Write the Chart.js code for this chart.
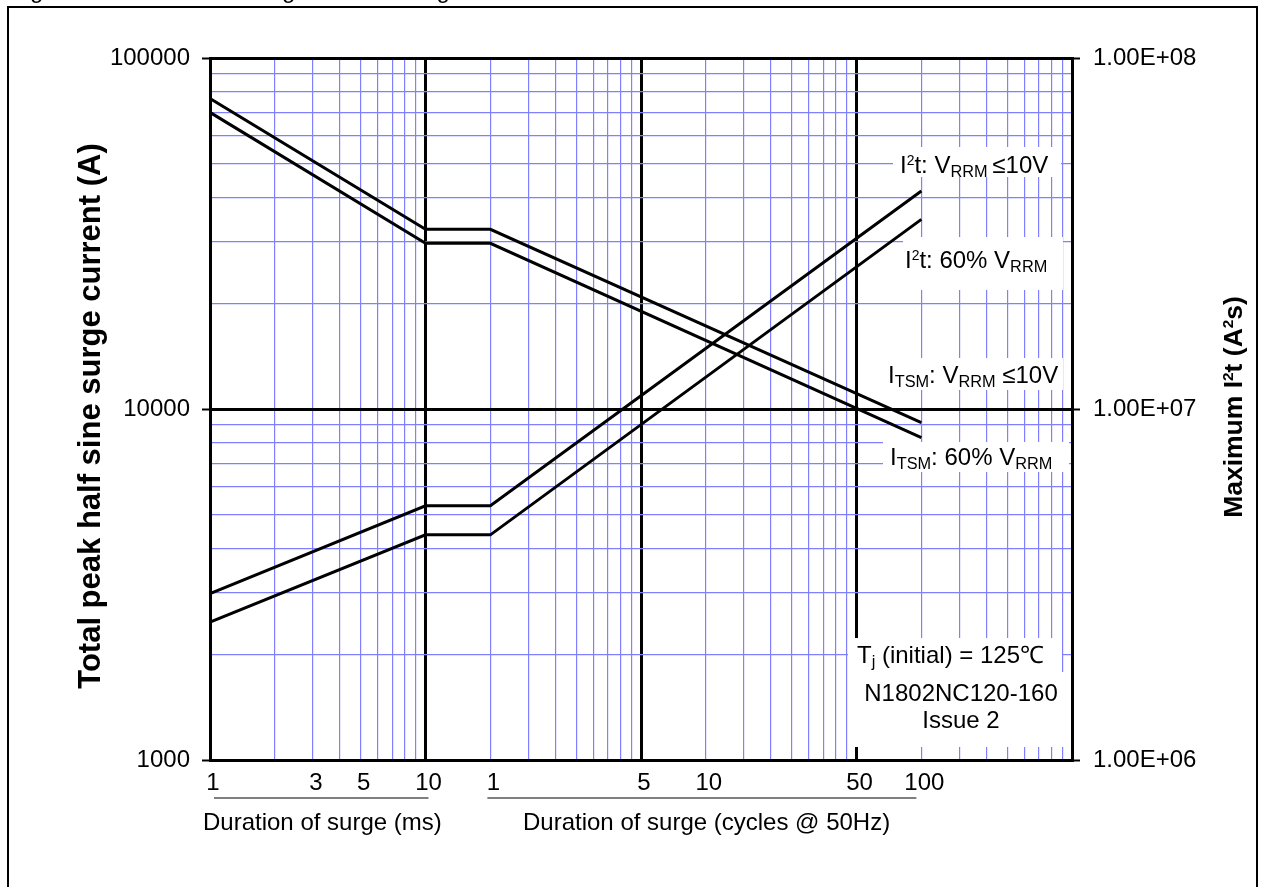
<!DOCTYPE html>
<html><head><meta charset="utf-8">
<script src="https://cdn.jsdelivr.net/npm/chart.js@4.4.0/dist/chart.umd.min.js"></script>
<style>html,body{margin:0;padding:0;background:#fff;overflow:hidden}#wrap{position:relative;width:1265px;height:887px}canvas{display:block}</style>
</head><body><div id="wrap"><canvas id="c" width="1265" height="887" style="width:1265px;height:887px"></canvas></div>
<script>
// ---- data ----
const durationMs = [1, 10, 20, 2000];             // surge duration (ms); 20 ms = 1 cycle @ 50 Hz
const itsmLowV   = [76700, 32500, 32500, 9150];   // I_TSM, V_RRM <= 10V (A)
const itsm60     = [70000, 29650, 29650, 8290];   // I_TSM, 60% V_RRM (A)
const i2tLowV    = [2.98e6, 5.30e6, 5.30e6, 4.18e7]; // I2t, V_RRM <= 10V (A2s)
const i2t60      = [2.47e6, 4.38e6, 4.38e6, 3.47e7]; // I2t, 60% V_RRM (A2s)

// ---- axis ticks / labels ----
const xGridMs = [1,2,3,4,5,6,7,8,9,10,20,30,40,50,60,70,80,90,100,200,300,400,500,600,700,800,900,1000,2000,3000,4000,5000,6000,7000,8000,9000,10000];
const xLabelValues = [1, 3, 5, 10, 20, 100, 200, 1000, 2000];
const xLabels      = ['1','3','5','10','1','5','10','50','100'];
const yLeftGrid = [1000,2000,3000,4000,5000,6000,7000,8000,9000,10000,20000,30000,40000,50000,60000,70000,80000,90000,100000];
const yLeftLabelValues = [1000, 10000, 100000];
const yLeftLabels      = ['1000', '10000', '100000'];
const yRightValues = [1e6, 1e7, 1e8];
const yRightLabels = ['1.00E+06', '1.00E+07', '1.00E+08'];

const FONT = '"Liberation Sans", Arial, Helvetica, sans-serif';
const BLUE = '#8080ff';
const isMajor = v => Math.abs(Math.log10(v) - Math.round(Math.log10(v))) < 1e-9;
const lookup = (vals, labels) => v => { const i = vals.findIndex(t => Math.abs(t - v) / t < 1e-9); return i >= 0 ? labels[i] : ''; };
const xLabel = lookup(xLabelValues, xLabels);
const yLeftLabel = lookup(yLeftLabelValues, yLeftLabels);
const yRightLabel = lookup(yRightValues, yRightLabels);

const mkDs = (label, vals, axis) => ({
  label, yAxisID: axis,
  data: durationMs.map((x, i) => ({ x, y: vals[i] })),
  borderColor: '#000', borderWidth: 3, pointRadius: 0, pointHoverRadius: 0,
  fill: false, tension: 0, borderJoinStyle: 'miter'
});

function fnt(size, bold) { return (bold ? 'bold ' : '') + size + 'px ' + FONT; }
function runSize(m, size) { return m === 1 ? size * 0.58 : (m === -1 ? size * 0.68 : size); }
function measureRuns(ctx, runs, size, bold) {
  let w = 0;
  for (const [t, m] of runs) { ctx.font = fnt(runSize(m, size), bold); w += ctx.measureText(t).width; }
  return w;
}
function drawRuns(ctx, runs, x, y, size, bold, align) {
  const w = measureRuns(ctx, runs, size, bold);
  let cx = align === 'center' ? x - w / 2 : x;
  ctx.textBaseline = 'alphabetic'; ctx.textAlign = 'left'; ctx.fillStyle = '#000';
  for (const [t, m] of runs) {
    ctx.font = fnt(runSize(m, size), bold);
    const dy = m === 1 ? -size * 0.33 : (m === -1 ? size * 0.16 : 0);
    ctx.fillText(t, cx, y + dy);
    cx += ctx.measureText(t).width;
  }
}

const annotations = {
  id: 'annotations',
  afterDraw(chart) {
    const ctx = chart.ctx;
    const xs = chart.scales.x;
    ctx.save();
    // outer frame
    ctx.strokeStyle = '#000'; ctx.lineWidth = 2;
    ctx.strokeRect(8, 7, 1249, 900);
    // figure title (cut off at top in the reference)
    drawRuns(ctx, [['Figure 13 \u2013 Maximum surge and I', 0], ['2', 1], ['t ratings', 0]], 10, -2, 24, false, 'left');

    // white label boxes covering the grid
    ctx.fillStyle = '#fff';
    const boxes = [[893,147,1061,177],[903,237,1063,290],[883,358,1063,390],[883,442,1069,472],[848,638,1062,672],[855,672,1069,747]];
    for (const [x0,y0,x1,y1] of boxes) ctx.fillRect(x0, y0, x1 - x0, y1 - y0);

    drawRuns(ctx, [['I',0],['2',1],['t: V',0],['RRM',-1],['\u2009\u226410V',0]], 900, 173, 24, false, 'left');
    drawRuns(ctx, [['I',0],['2',1],['t: 60% V',0],['RRM',-1]], 905, 268, 24, false, 'left');
    drawRuns(ctx, [['I',0],['TSM',-1],[': V',0],['RRM',-1],[' \u226410V',0]], 888, 383, 24, false, 'left');
    drawRuns(ctx, [['I',0],['TSM',-1],[': 60% V',0],['RRM',-1]], 890, 465, 24, false, 'left');
    drawRuns(ctx, [['T',0],['j',-1],[' (initial) = 125\u2103',0]], 857, 663, 24, false, 'left');
    drawRuns(ctx, [['N1802NC120-160',0]], 961, 701, 24, false, 'center');
    drawRuns(ctx, [['Issue 2',0]], 961, 728, 24, false, 'center');

    // x axis group underlines and titles
    ctx.strokeStyle = '#000'; ctx.lineWidth = 1.2;
    ctx.beginPath();
    ctx.moveTo(xs.getPixelForValue(1) + 4, 798); ctx.lineTo(xs.getPixelForValue(10) + 3, 798);
    ctx.moveTo(xs.getPixelForValue(20) - 3, 798); ctx.lineTo(xs.getPixelForValue(2000) - 5, 798);
    ctx.stroke();
    drawRuns(ctx, [['Duration of surge (ms)',0]], 203, 830, 24, false, 'left');
    drawRuns(ctx, [['Duration of surge (cycles @ 50Hz)',0]], 523, 830, 24, false, 'left');

    // y axis titles (rotated)
    ctx.save();
    ctx.translate(100, 416); ctx.rotate(-Math.PI / 2);
    drawRuns(ctx, [['Total peak half sine surge current (A)',0]], 0, 0, 31, true, 'center');
    ctx.restore();
    ctx.save();
    ctx.translate(1242, 407); ctx.rotate(-Math.PI / 2);
    drawRuns(ctx, [['Maximum I',0],['2',1],['t (A',0],['2',1],['s)',0]], 0, 0, 26.5, true, 'center');
    ctx.restore();
    ctx.restore();
  }
};

const tickFont = { family: FONT, size: 24 };
new Chart(document.getElementById('c'), {
  type: 'line',
  data: { datasets: [
    mkDs('I2t: VRRM <= 10V', i2tLowV, 'yR'),
    mkDs('I2t: 60% VRRM', i2t60, 'yR'),
    mkDs('ITSM: VRRM <= 10V', itsmLowV, 'y'),
    mkDs('ITSM: 60% VRRM', itsm60, 'y')
  ]},
  options: {
    responsive: false, animation: false, devicePixelRatio: 1,
    layout: { padding: { top: 58, left: 0, right: 0, bottom: 0 } },
    plugins: { legend: { display: false }, tooltip: { enabled: false }, title: { display: false } },
    events: [],
    scales: {
      x: {
        type: 'logarithmic', min: 1, max: 10000,
        afterBuildTicks: s => { s.ticks = xGridMs.map(v => ({ value: v, major: isMajor(v) })); },
        afterFit: s => { s.height = 127; },
        grid: {
          color: c => (c.tick && c.tick.major) ? '#000' : BLUE,
          lineWidth: c => (c.tick && c.tick.major) ? 3 : 1.2,
          drawTicks: false
        },
        border: { display: true, color: '#000', width: 3 },
        ticks: { autoSkip: false, maxRotation: 0, minRotation: 0, padding: 9, labelOffset: 3, color: '#000', font: tickFont, callback: v => xLabel(v) }
      },
      y: {
        type: 'logarithmic', position: 'left', min: 1000, max: 100000,
        afterBuildTicks: s => { s.ticks = yLeftGrid.map(v => ({ value: v, major: isMajor(v) })); },
        afterFit: s => { s.width = 210; },
        grid: {
          color: c => (c.tick && c.tick.major) ? '#000' : BLUE,
          lineWidth: c => (c.tick && c.tick.major) ? 3 : 1.2,
          drawTicks: true, tickLength: 8,
          tickColor: c => (c.tick && c.tick.major) ? '#000' : 'rgba(0,0,0,0)',
          tickWidth: 2
        },
        border: { display: true, color: '#000', width: 3 },
        ticks: { autoSkip: false, padding: 12, color: '#000', font: tickFont, callback: v => yLeftLabel(v) }
      },
      yR: {
        type: 'logarithmic', position: 'right', min: 1e6, max: 1e8,
        afterBuildTicks: s => { s.ticks = yRightValues.map(v => ({ value: v, major: true })); },
        afterFit: s => { s.width = 193; },
        grid: { drawOnChartArea: false, drawTicks: true, tickLength: 8, tickColor: '#000', tickWidth: 2 },
        border: { display: true, color: '#000', width: 3 },
        ticks: { autoSkip: false, padding: 13, color: '#000', font: tickFont, callback: v => yRightLabel(v) }
      }
    }
  },
  plugins: [annotations]
});
</script>
</body></html>
